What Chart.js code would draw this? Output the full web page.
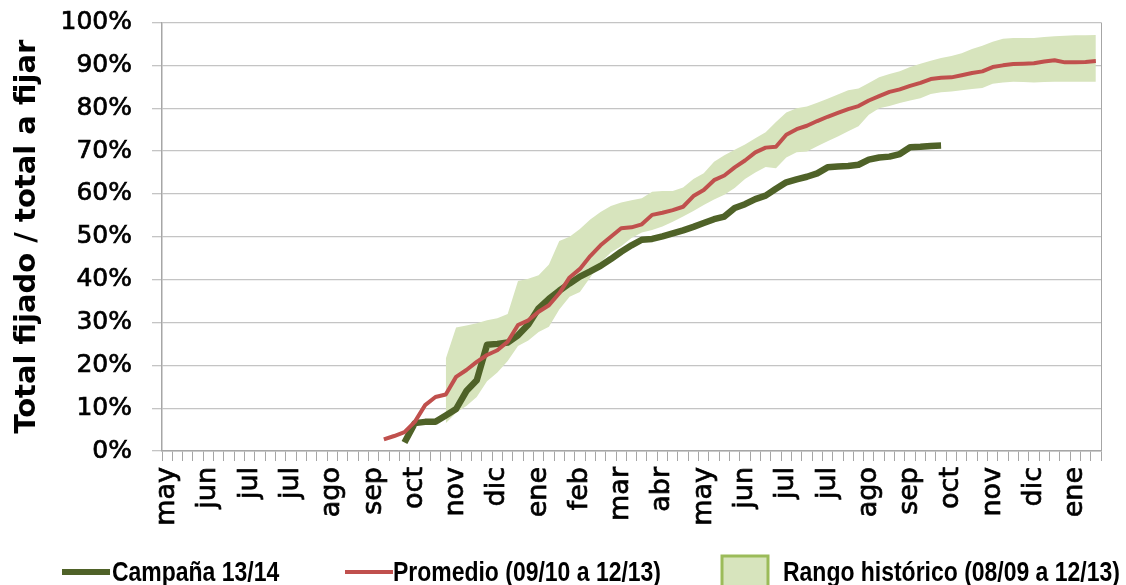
<!DOCTYPE html>
<html>
<head>
<meta charset="utf-8">
<script src="https://cdn.jsdelivr.net/npm/chart.js@4.4.1/dist/chart.umd.min.js"></script>
<style>
  html, body { margin: 0; padding: 0; background: #fff; }
  canvas { display: block; }
</style>
</head>
<body>
<canvas id="fijaciones" width="1126" height="585"></canvas>
<script>
// one label every 4 weeks, weekly axis
const monthLabels = [
  "may", "jun", "jul", "jul", "ago", "sep", "oct", "nov", "dic", "ene", "feb", "mar",
  "abr", "may", "jun", "jul", "jul", "ago", "sep", "oct", "nov", "dic", "ene"
];
const weekCount = 91;

// Campaña 13/14 (% fijado), starts at week 23
const campanaStart = 23;
const campana = [
  2.0, 6.5, 6.8, 6.8, 8.3, 9.8, 14.0, 16.5, 24.8, 25.0,
  25.3, 27.0, 29.5, 33.3, 35.5, 37.4, 39.1, 40.7, 41.9, 43.2,
  44.8, 46.5, 48.0, 49.3, 49.5, 50.1, 50.8, 51.5, 52.3, 53.2,
  54.1, 54.7, 56.7, 57.6, 58.8, 59.6, 61.2, 62.7, 63.4, 64.0,
  64.8, 66.2, 66.4, 66.5, 66.8, 68.0, 68.5, 68.7, 69.3, 70.9,
  71.0, 71.2, 71.3
];

// Promedio 09/10 a 12/13, starts at week 21
const promedioStart = 21;
const promedio = [
  2.7, 3.5, 4.4, 6.8, 10.7, 12.6, 13.2, 17.3, 18.9, 20.8,
  22.4, 23.5, 25.5, 29.4, 30.5, 32.5, 34.0, 36.8, 40.5, 42.5,
  45.5, 48.0, 50.0, 52.0, 52.2, 52.9, 55.1, 55.6, 56.2, 57.0,
  59.5, 60.9, 63.2, 64.3, 66.2, 67.8, 69.7, 70.8, 71.0, 73.8,
  75.1, 75.9, 77.0, 78.0, 78.9, 79.8, 80.5, 81.8, 82.8, 83.8,
  84.4, 85.2, 85.9, 86.8, 87.1, 87.2, 87.7, 88.2, 88.6, 89.6,
  90.0, 90.3, 90.4, 90.5, 90.9, 91.2, 90.7, 90.7, 90.8, 91.0
];

// Rango histórico 08/09 a 12/13 (máximo y mínimo), starts at week 27
const rangoStart = 27;
const rangoMax = [
  21.5, 28.8, 29.3, 29.8, 30.5, 31.0, 32.0, 39.7, 40.2, 41.0,
  43.5, 49.0, 50.0, 51.8, 54.0, 55.8, 57.2, 58.0, 58.5, 59.0,
  60.5, 60.7, 60.7, 61.5, 63.5, 64.8, 67.5, 69.0, 70.3, 71.5,
  73.0, 74.4, 76.8, 79.0, 80.0, 80.4, 81.3, 82.2, 83.2, 84.2,
  84.6, 85.9, 87.2, 88.0, 88.6, 89.6, 90.4, 91.1, 91.7, 92.2,
  92.8, 93.8, 94.6, 95.5, 96.2, 96.4, 96.4, 96.4, 96.6, 96.8,
  96.9, 97.0, 97.0, 97.1
];
const rangoMin = [
  6.5, 8.9, 10.5, 12.6, 16.3, 18.3, 21.0, 24.5, 25.8, 27.8,
  29.0, 33.0, 36.0, 37.1, 40.5, 44.0, 46.3, 47.8, 49.7, 51.0,
  51.6, 52.4, 53.5, 54.7, 56.0, 57.4, 58.7, 59.8, 61.4, 63.5,
  65.0, 66.3, 66.0, 68.5, 69.7, 69.9, 71.1, 72.3, 73.4, 74.6,
  75.8, 78.5, 80.0, 80.5, 81.2, 81.8, 82.3, 83.3, 83.7, 83.9,
  84.2, 84.5, 84.7, 85.7, 86.0, 86.2, 86.1, 86.0, 86.1, 86.2,
  86.2, 86.2, 86.2, 86.2
];

const weekLabels = [];
for (let i = 0; i < weekCount; i++) {
  weekLabels.push(i % 4 === 0 ? monthLabels[i / 4] : "");
}

// pad a series with nulls so it lines up with the weekly axis
function placeAt(start, values) {
  const out = new Array(weekCount).fill(null);
  values.forEach((v, k) => { out[start + k] = v; });
  return out;
}

const GREEN = "#4f6228";
const RED = "#c0504d";
const BAND = "#d7e4bd";
const BAND_EDGE = "#9bbb59";
const AXIS = "#a6a6a6";

// right edge of the plot area
const plotFrame = {
  id: "plotFrame",
  afterDatasetsDraw(chart) {
    const { ctx, chartArea: { top, bottom, right } } = chart;
    ctx.save();
    ctx.strokeStyle = AXIS;
    ctx.lineWidth = 1;
    ctx.beginPath();
    ctx.moveTo(Math.round(right) + 0.5, top);
    ctx.lineTo(Math.round(right) + 0.5, bottom);
    ctx.stroke();
    ctx.restore();
  }
};

// legend row under the axis labels
const bottomLegend = {
  id: "bottomLegend",
  afterDraw(chart) {
    const ctx = chart.ctx;
    const ds = chart.data.datasets;
    const y = 572;
    const items = [
      { kind: "line", x: 62, w: 48, color: ds[1].borderColor, width: 6, text: ds[1].label, tx: 112 },
      { kind: "line", x: 345, w: 48, color: ds[0].borderColor, width: 4, text: ds[0].label, tx: 393 },
      { kind: "box", x: 722, w: 46, color: ds[2].backgroundColor, text: ds[2].label, tx: 783 }
    ];
    ctx.save();
    items.forEach(it => {
      if (it.kind === "line") {
        ctx.strokeStyle = it.color;
        ctx.lineWidth = it.width;
        ctx.beginPath();
        ctx.moveTo(it.x, y);
        ctx.lineTo(it.x + it.w, y);
        ctx.stroke();
      } else {
        ctx.fillStyle = it.color;
        ctx.fillRect(it.x, y - 16, it.w, 31);
        ctx.strokeStyle = BAND_EDGE;
        ctx.lineWidth = 3;
        ctx.strokeRect(it.x, y - 16, it.w, 31);
      }
      ctx.save();
      ctx.translate(it.tx, y);
      ctx.scale(0.82, 1);
      ctx.fillStyle = "#000";
      ctx.font = 'bold 28px "Liberation Sans", Arial, sans-serif';
      ctx.textBaseline = "middle";
      ctx.textAlign = "left";
      ctx.fillText(it.text, 0, 1);
      ctx.restore();
    });
    ctx.restore();
  }
};

const ctx = document.getElementById("fijaciones");

new Chart(ctx, {
  type: "line",
  data: {
    labels: weekLabels,
    datasets: [
      {
        label: "Promedio (09/10 a 12/13)",
        data: placeAt(promedioStart, promedio),
        borderColor: RED,
        borderWidth: 4,
        fill: false
      },
      {
        label: "Campaña 13/14",
        data: placeAt(campanaStart, campana),
        borderColor: GREEN,
        borderWidth: 6.5,
        fill: false
      },
      {
        label: "Rango histórico (08/09 a 12/13)",
        data: placeAt(rangoStart, rangoMax),
        borderColor: "rgba(0,0,0,0)",
        borderWidth: 0,
        backgroundColor: BAND,
        fill: "+1"
      },
      {
        label: "mínimo",
        data: placeAt(rangoStart, rangoMin),
        borderColor: "rgba(0,0,0,0)",
        borderWidth: 0,
        backgroundColor: BAND,
        fill: false
      }
    ]
  },
  plugins: [plotFrame, bottomLegend],
  options: {
    responsive: false,
    animation: false,
    layout: { padding: { top: 22.5, right: 25, left: 0, bottom: 0 } },
    elements: {
      point: { radius: 0, hoverRadius: 0 },
      line: { tension: 0, borderJoinStyle: "round" }
    },
    plugins: {
      legend: { display: false },
      tooltip: { enabled: false }
    },
    scales: {
      x: {
        type: "category",
        offset: true,
        grid: {
          offset: true,
          drawOnChartArea: false,
          drawTicks: true,
          tickLength: 10,
          color: AXIS
        },
        border: { color: AXIS, width: 1.5 },
        ticks: {
          autoSkip: false,
          minRotation: 90,
          maxRotation: 90,
          padding: 6,
          color: "#000",
          textStrokeColor: "#000",
          textStrokeWidth: 0.7,
          font: { family: "DejaVu Sans", size: 27 }
        },
        afterFit(scale) {
          scale.height = 134;
          scale.paddingLeft = 0;
          scale.paddingRight = 0;
        }
      },
      y: {
        min: 0,
        max: 100,
        ticks: {
          stepSize: 10,
          padding: 20,
          color: "#000",
          textStrokeColor: "#000",
          textStrokeWidth: 0.7,
          font: { family: "DejaVu Sans", size: 25 },
          callback: v => v + "%"
        },
        grid: { color: "#c4c4c4", lineWidth: 1.3, tickLength: 10 },
        border: { color: AXIS, width: 1.5 },
        title: {
          display: true,
          text: "Total fijado / total a fijar",
          color: "#000",
          font: { family: "DejaVu Sans", size: 29, weight: "bold" },
          padding: { top: 10, bottom: 0 }
        },
        afterFit(scale) {
          scale.width = 162;
          scale.paddingTop = 0;
          scale.paddingBottom = 0;
        }
      }
    }
  }
});
</script>
</body>
</html>
